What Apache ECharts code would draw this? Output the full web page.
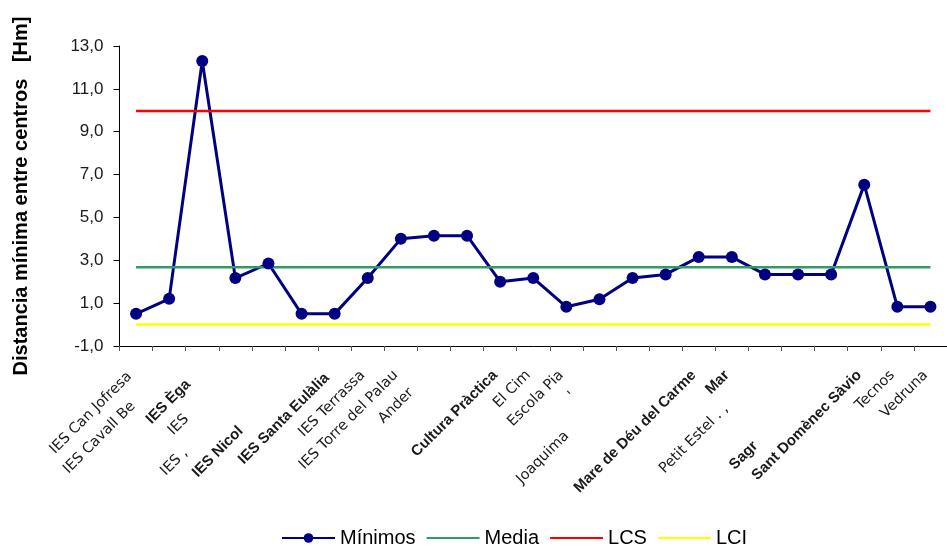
<!DOCTYPE html>
<html>
<head>
<meta charset="utf-8">
<script src="https://cdn.jsdelivr.net/npm/echarts@6/dist/echarts.min.js"></script>
<style>
  html, body { margin: 0; padding: 0; background: #fff; }
  #chart { width: 947px; height: 546px; }
</style>
</head>
<body>
<div id="chart"></div>
<script>
// Category labels along the x axis (as printed)
const categories = [
  'IES Can Jofresa', 'IES Cavall Be', 'IES Èga', 'IES', 'IES ,', 'IES Nicol',
  'IES Santa Eulàlia', 'IES Terrassa', 'IES Torre del Palau', 'Ander', '',
  'Cultura Pràctica', 'El Cim', 'Escola Pia', "'", 'Joaquima', '',
  'Mare de Déu del Carme', 'Mar', 'Petit Estel . ,', '', 'Sagr',
  'Sant Domènec Sàvio', 'Tecnos', 'Vedruna'
];

// Minimum distance to the nearest centre [Hm]
const minimos = [
  0.5, 1.2, 12.3, 2.17, 2.85, 0.5, 0.5, 2.17, 4.0, 4.15, 4.15, 2.0, 2.17,
  0.83, 1.18, 2.17, 2.34, 3.15, 3.15, 2.34, 2.34, 2.34, 6.53, 0.83, 0.83
];

// Control limits
const mediaValue = 2.67;
const lcsValue = 9.97;
const lciValue = 0.0;

// Y axis range / ticks
const yMin = -1, yMax = 13, yStep = 2;

// ---- styling of the rotated category labels ----
const boldLabels = [2, 5, 6, 11, 17, 18, 21, 22];
const labelSlide = [2, 44, 13, 62, 110, 79, 4, 0, 0, 25, 0, 0, 0, 0, 30, 86, 0, 0, 0, 48, 0, 100, 0, 0, 0];
const baseSlide = 7;

const rich = {};
categories.forEach((c, i) => {
  const bold = boldLabels.indexOf(i) >= 0;
  rich['l' + i] = {
    fontFamily: bold ? 'Liberation Sans, Arial, sans-serif' : 'DejaVu Sans, Verdana, sans-serif',
    fontWeight: bold ? 'bold' : 'normal',
    fontSize: bold ? 15 : 14.5,
    color: '#1a1a1a',
    padding: [0, baseSlide + labelSlide[i], 0, 0]
  };
});

const flat = v => categories.map(() => v);
const hiddenSymbol = { opacity: 0 };

const chart = echarts.init(document.getElementById('chart'), null, { renderer: 'canvas' });
chart.setOption({
  animation: false,
  backgroundColor: '#ffffff',
  grid: { left: 119.5, top: 46, bottom: 200, right: -12, containLabel: false },
  legend: {
    left: 281,
    top: 528,
    padding: 0,
    itemWidth: 53,
    itemHeight: 12,
    itemGap: 10,
    textStyle: { fontFamily: 'Liberation Sans, Arial, sans-serif', fontSize: 20, color: '#000' },
    data: [
      { name: 'Mínimos' },
      { name: 'Media', itemStyle: hiddenSymbol },
      { name: 'LCS', itemStyle: hiddenSymbol },
      { name: 'LCI', itemStyle: hiddenSymbol }
    ]
  },
  xAxis: {
    type: 'category',
    data: categories,
    boundaryGap: true,
    axisLine: { onZero: false, lineStyle: { color: '#000', width: 1 } },
    axisTick: { show: true, interval: 0, length: 5, lineStyle: { color: '#555' } },
    axisLabel: {
      interval: 0,
      rotate: 45,
      margin: 22,
      hideOverlap: false,
      formatter: (v, i) => v ? '{l' + i + '|' + v + '}' : '',
      rich: rich
    },
    splitLine: { show: false }
  },
  yAxis: {
    type: 'value',
    min: yMin,
    max: yMax,
    interval: yStep,
    name: 'Distancia mínima entre centros   [Hm]',
    nameLocation: 'middle',
    nameGap: 88,
    nameRotate: 90,
    nameTextStyle: { fontFamily: 'Liberation Sans, Arial, sans-serif', fontWeight: 'bold', fontSize: 20, color: '#000' },
    axisLine: { show: true, lineStyle: { color: '#000', width: 1 } },
    axisTick: { show: true, length: 6, lineStyle: { color: '#000' } },
    axisLabel: {
      margin: 16,
      fontFamily: 'Liberation Sans, Arial, sans-serif',
      fontSize: 17,
      color: '#1a1a1a',
      formatter: v => v.toFixed(1).replace('.', ',')
    },
    splitLine: { show: false }
  },
  series: [
    {
      name: 'Mínimos',
      type: 'line',
      data: minimos,
      symbol: 'circle',
      symbolSize: 12,
      itemStyle: { color: '#000080' },
      lineStyle: { color: '#000080', width: 3 }
    },
    {
      name: 'Media',
      type: 'line',
      data: flat(mediaValue),
      symbol: 'none',
      itemStyle: { color: '#339966' },
      lineStyle: { color: '#339966', width: 2.5 }
    },
    {
      name: 'LCS',
      type: 'line',
      data: flat(lcsValue),
      symbol: 'none',
      itemStyle: { color: '#ff0000' },
      lineStyle: { color: '#ff0000', width: 2.5 }
    },
    {
      name: 'LCI',
      type: 'line',
      data: flat(lciValue),
      symbol: 'none',
      itemStyle: { color: '#ffff00' },
      lineStyle: { color: '#ffff00', width: 2.5 }
    }
  ]
});
</script>
</body>
</html>
